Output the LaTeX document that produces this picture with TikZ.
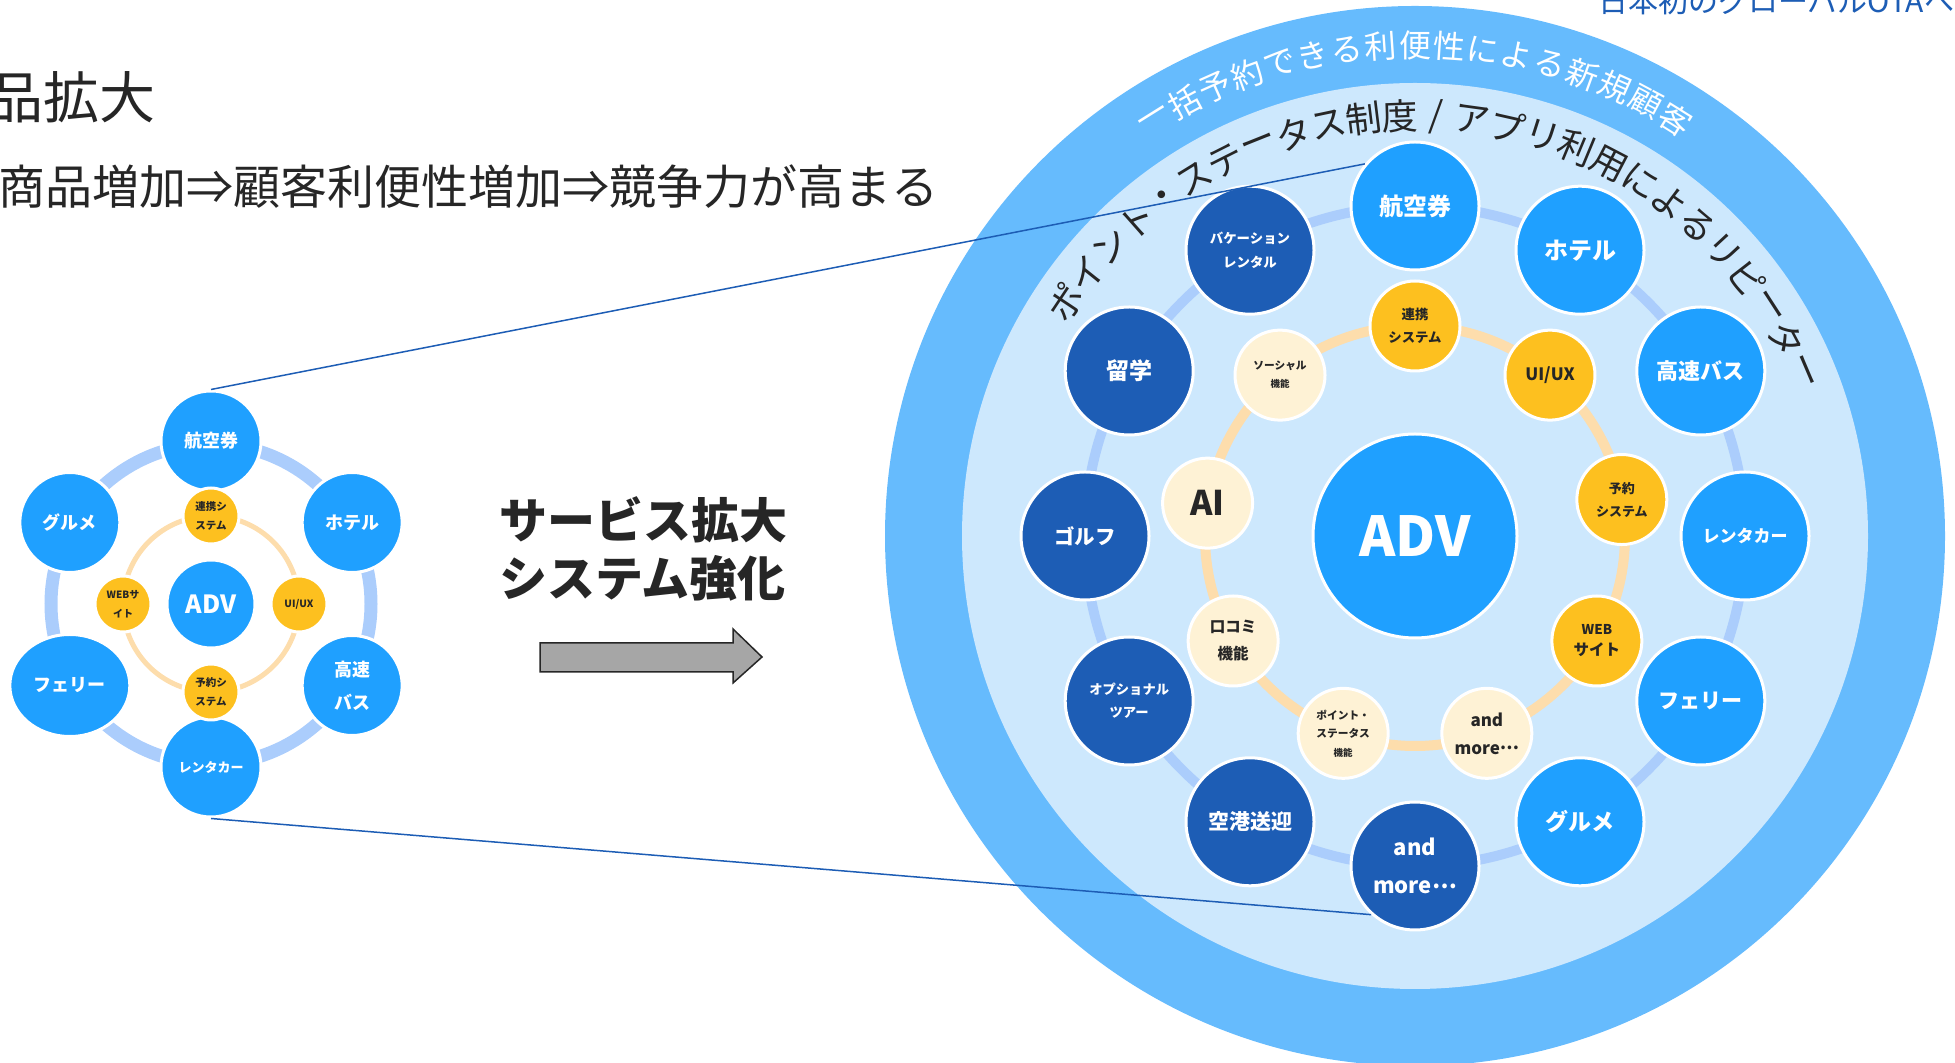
\documentclass[tikz,border=0pt]{standalone}
\usepackage{fontspec}
\newfontfamily\jp{Noto Sans CJK JP}
\usetikzlibrary{shapes.geometric}

\definecolor{bandblue}{HTML}{66BBFD}
\definecolor{paleblue}{HTML}{CDE8FD}
\definecolor{nodeblue}{HTML}{1FA0FF}
\definecolor{deepblue}{HTML}{1D5DB5}
\definecolor{ringblue}{HTML}{ABCDFC}
\definecolor{sysorange}{HTML}{FDC01F}
\definecolor{cream}{HTML}{FEF2D5}
\definecolor{peach}{HTML}{FDDDAC}
\definecolor{ink}{HTML}{262626}
\definecolor{arrowgray}{HTML}{A6A6A6}

\newcommand\fsz[2]{\fontsize{#1}{#2}\selectfont}
\newcommand\middots{\raisebox{0.25em}{…}}

\tikzset{
  sz/.style 2 args={font=\jp\bfseries\fsz{#1}{#2}},
  svc/.style={circle, fill=nodeblue, draw=white, line width=3pt,
    minimum size=128pt, inner sep=0pt, text=white, align=center},
  svcdark/.style={svc, fill=deepblue},
  sys/.style={circle, fill=sysorange, draw=white, line width=3pt,
    minimum size=90pt, inner sep=0pt, text=ink, align=center},
  syspale/.style={sys, fill=cream},
  newtext/.style={inner sep=0pt, text=white, font=\jp\fsz{32}{32}},
  repeattext/.style={inner sep=0pt, text=ink, font=\jp\fsz{36}{36}},
  zoomline/.style={deepblue, line width=1.5pt}
}

\begin{document}
\begin{tikzpicture}[x=1pt, y=1pt]
\useasboundingbox (0,0) rectangle (1955,1063);
\clip (0,0) rectangle (1955,1063);

%-------------------------
% Titoli
%-------------------------
\node[anchor=base east, inner sep=0pt, text=ink, font=\jp\fsz{56}{56}] (head) at (156,944) {品拡大};
\node[anchor=base west, inner sep=0pt, text=ink, font=\jp\fsz{47}{47}] (lead) at (-2,858) {商品増加⇒顧客利便性増加⇒競争力が高まる};
\node[anchor=base west, inner sep=0pt, text=deepblue, font=\jp\fsz{30}{30}] (slogan) at (1598,1050) {日本初のグローバルOTAへ};

%-------------------------
% Schema piccolo (prima)
%-------------------------
\begin{scope}[shift={(211,459)}]
  \draw[ringblue, line width=13pt] (0,0) circle (160pt);
  \draw[peach, line width=5pt] (0,0) circle (88pt);

  \node[svc, minimum size=88pt, sz={25}{28}] (ladv) at (0,0) {ADV};

  \node[svc, minimum size=100pt, sz={18}{22}] (lkoku) at (90:163pt) {航空券};
  \node[svc, minimum size=100pt, sz={18}{22}] (lhotel) at (30:163pt) {ホテル};
  \node[svc, minimum size=100pt, sz={18}{33}] (lbus) at (-30:163pt) {高速\\バス};
  \node[svc, minimum size=100pt, sz={13}{16}] (lrent) at (-90:163pt) {レンタカー};
  \node[svc, ellipse, minimum width=120pt, minimum height=102pt, sz={18}{22}] (lferry) at (-150:163pt) {フェリー};
  \node[svc, minimum size=100pt, sz={18}{22}] (lgourmet) at (150:163pt) {グルメ};

  \node[sys, minimum size=56pt, sz={10.5}{19}] (lrenkei) at (90:88pt) {連携シ\\ステム};
  \node[sys, minimum size=56pt, sz={10}{12}] (luiux) at (0:88pt) {UI/UX};
  \node[sys, minimum size=56pt, sz={10.5}{19}] (lyoyaku) at (-90:88pt) {予約シ\\ステム};
  \node[sys, minimum size=56pt, sz={10}{19}] (lweb) at (180:88pt) {WEBサ\\イト};
\end{scope}

%-------------------------
% Freccia centrale
%-------------------------
\node[align=left, inner sep=0pt, text=ink, font=\jp\bfseries\fsz{48}{58}] (growth) at (643,514) {サービス拡大\\システム強化};
\filldraw[fill=arrowgray, draw=ink, line width=1.5pt]
  (540,391) -- (733,391) -- (733,380) -- (762,406) -- (733,434) -- (733,420) -- (540,420) -- cycle;

%-------------------------
% Schema grande (dopo)
%-------------------------
\begin{scope}[shift={(1415,527)}]
  \fill[bandblue] (0,0) circle (530pt);
  \fill[paleblue] (0,0) circle (453pt);

  % testi ad arco
  \foreach \ch [count=\i from 0] in {一,括,予,約,で,き,る,利,便,性,に,よ,る,新,規,顧,客}
    \node[newtext, rotate={32-\i*4}] (nc\i) at ({122-\i*4}:491pt) {\ch};
  \foreach \ch [count=\i from 0] in {ポ,イ,ン,ト,・,ス,テ,ー,タ,ス,制,度,{/},ア,プ,リ,利,用,に,よ,る,リ,ピ,ー,タ,ー}
    \node[repeattext, rotate={56.3-\i*4.93}] (rc\i) at ({146.3-\i*4.93}:420pt) {\ch};

  \draw[ringblue, line width=10pt] (0,0) circle (330pt);
  \draw[peach, line width=10pt] (0,0) circle (210pt);

  \node[svc, minimum size=204pt, sz={55}{60}] (adv) at (0,0) {ADV};

  % servizi
  \node[svc, sz={24}{28}] (koku) at (90:330pt) {航空券};
  \node[svc, sz={24}{28}] (hotel) at (60:330pt) {ホテル};
  \node[svc, sz={22}{26}] (bus) at (30:330pt) {高速バス};
  \node[svc, sz={17}{20}] (rent) at (0:330pt) {レンタカー};
  \node[svc, sz={21}{25}] (ferry) at (-30:330pt) {フェリー};
  \node[svc, sz={23}{27}] (gourmet) at (-60:330pt) {グルメ};
  \node[svcdark, sz={22}{38}] (rmore) at (-90:330pt) {and\\more\middots};
  \node[svcdark, sz={21}{25}] (pickup) at (-120:330pt) {空港送迎};
  \node[svcdark, sz={13.3}{23}] (optour) at (-150:330pt) {オプショナル\\ツアー};
  \node[svcdark, sz={20.5}{24}] (golf) at (180:330pt) {ゴルフ};
  \node[svcdark, sz={23}{27}] (study) at (150:330pt) {留学};
  \node[svcdark, sz={13.4}{24}] (vacation) at (120:330pt) {バケーション\\レンタル};

  % sistemi
  \node[sys, sz={13.4}{23}] (renkei) at (90:210pt) {連携\\システム};
  \node[sys, sz={17}{20}] (uiux) at (50:210pt) {UI/UX};
  \node[sys, sz={13}{23}] (yoyaku) at (10:210pt) {予約\\システム};
  \node[sys, sz={13.5}{21}] (web) at (-30:210pt) {WEB\\{\fsz{15.5}{21}サイト}};
  \node[syspale, sz={17}{28}] (smore) at (-70:210pt) {and\\more\middots};
  \node[syspale, sz={10.7}{18.5}] (point) at (-110:210pt) {ポイント・\\ステータス\\{\fsz{9.5}{18.5}機能}};
  \node[syspale, sz={15.5}{27}] (review) at (-150:210pt) {口コミ\\機能};
  \node[syspale, sz={34}{38}] (ai) at (171:210pt) {AI};
  \node[syspale, sz={10.7}{18}] (social) at (130:210pt) {ソーシャル\\{\fsz{9.5}{18}機能}};
\end{scope}

% linee di ingrandimento
\draw[zoomline] (lkoku.north) -- (koku.140);
\draw[zoomline] (lrent.south) -- (rmore.228);

\end{tikzpicture}
\end{document}
